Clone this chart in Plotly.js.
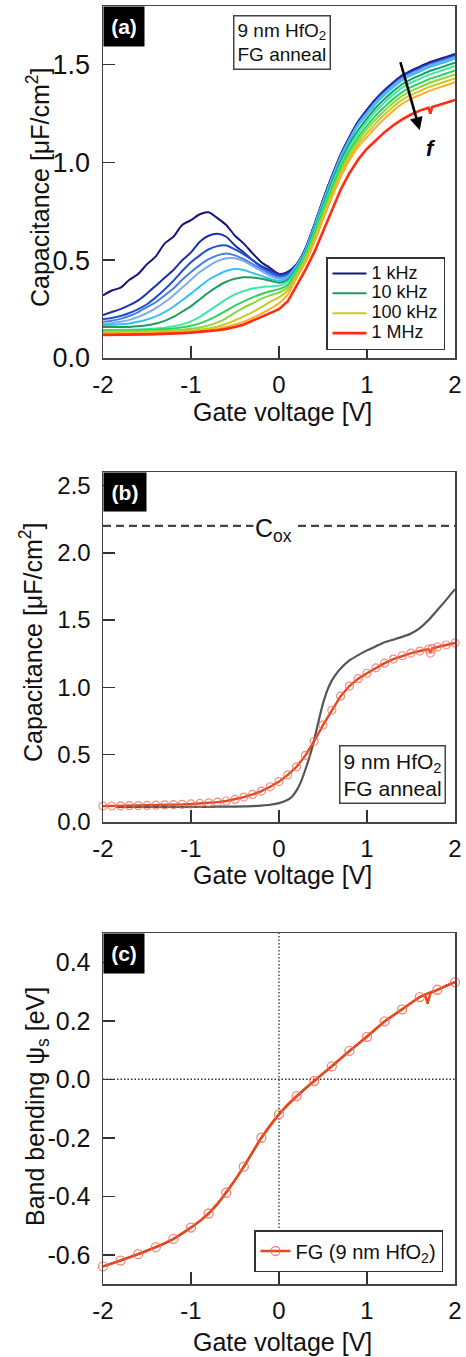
<!DOCTYPE html>
<html>
<head>
<meta charset="utf-8">
<script src="https://cdn.plot.ly/plotly-3.0.1.min.js"></script>
<style>html,body{margin:0;padding:0;background:#fff;}#chart{width:466px;height:1357px;}</style>
</head>
<body>
<div id="chart"></div>
<script>
// ---------- data ----------
// panel (a): gate voltage grid and C-V curves at several frequencies (uF/cm^2)
const va = [-2.0,-1.9,-1.8,-1.7,-1.6,-1.5,-1.4,-1.3,-1.2,-1.1,-1.0,-0.9,-0.8,-0.7,-0.6,-0.5,-0.4,-0.3,-0.2,-0.1,0.0,0.1,
            0.2,0.3,0.4,0.5,0.6,0.7,0.8,0.9,1.0,1.1,1.2,1.3,1.4,1.5,1.6,1.7,1.8,1.9,2.0];
const ca_1k   = [0.32,0.345,0.36,0.40,0.43,0.48,0.52,0.585,0.62,0.68,0.705,0.735,0.745,0.715,0.68,0.625,0.585,0.535,0.49,0.46,0.43,0.44,
                 0.48,0.56,0.68,0.81,0.93,1.04,1.13,1.21,1.27,1.325,1.37,1.41,1.445,1.47,1.49,1.51,1.525,1.54,1.555];
const ca_2k   = [0.22,0.235,0.25,0.27,0.295,0.33,0.37,0.41,0.45,0.50,0.54,0.595,0.625,0.635,0.62,0.575,0.54,0.50,0.47,0.45,0.43,0.435,
                 0.478,0.558,0.677,0.806,0.926,1.036,1.126,1.206,1.265,1.32,1.365,1.405,1.44,1.465,1.485,1.505,1.52,1.535,1.55];
const ca_3k   = [0.20,0.205,0.215,0.23,0.25,0.275,0.31,0.35,0.395,0.445,0.49,0.525,0.555,0.572,0.575,0.555,0.53,0.50,0.465,0.44,0.42,0.43,
                 0.475,0.555,0.674,0.803,0.922,1.032,1.122,1.202,1.26,1.315,1.36,1.40,1.435,1.46,1.48,1.50,1.515,1.53,1.545];
const ca_4k   = [0.185,0.19,0.20,0.215,0.235,0.26,0.285,0.32,0.355,0.40,0.44,0.475,0.505,0.525,0.535,0.525,0.505,0.48,0.455,0.43,0.41,0.42,
                 0.473,0.553,0.671,0.80,0.919,1.029,1.119,1.198,1.256,1.311,1.356,1.396,1.431,1.456,1.476,1.496,1.511,1.526,1.541];
const ca_5k   = [0.175,0.178,0.185,0.195,0.21,0.23,0.255,0.285,0.32,0.36,0.40,0.44,0.47,0.495,0.51,0.51,0.495,0.47,0.445,0.42,0.405,0.415,
                 0.471,0.551,0.669,0.797,0.916,1.026,1.115,1.195,1.252,1.307,1.352,1.392,1.427,1.452,1.472,1.492,1.507,1.522,1.537];
const ca_7k   = [0.168,0.17,0.172,0.177,0.185,0.197,0.213,0.235,0.262,0.295,0.33,0.365,0.40,0.425,0.445,0.455,0.45,0.435,0.42,0.405,0.395,0.41,
                 0.468,0.548,0.664,0.792,0.911,1.02,1.109,1.189,1.245,1.30,1.345,1.385,1.42,1.445,1.465,1.485,1.50,1.515,1.53];
const ca_10k  = [0.158,0.158,0.158,0.159,0.162,0.167,0.176,0.19,0.21,0.237,0.265,0.30,0.335,0.365,0.39,0.405,0.413,0.412,0.405,0.395,0.385,0.40,
                 0.458,0.538,0.652,0.778,0.896,1.004,1.093,1.165,1.225,1.28,1.325,1.365,1.40,1.425,1.445,1.465,1.48,1.495,1.51];
const ca_20k  = [0.143,0.143,0.144,0.145,0.146,0.148,0.151,0.155,0.162,0.172,0.187,0.21,0.24,0.27,0.30,0.325,0.342,0.355,0.362,0.366,0.37,0.39,
                 0.45,0.53,0.642,0.766,0.883,0.99,1.079,1.15,1.21,1.263,1.308,1.348,1.383,1.408,1.428,1.448,1.463,1.478,1.493];
const ca_30k  = [0.14,0.14,0.14,0.141,0.142,0.143,0.145,0.148,0.151,0.157,0.165,0.177,0.195,0.217,0.242,0.268,0.29,0.31,0.327,0.341,0.352,0.375,
                 0.438,0.518,0.627,0.75,0.865,0.972,1.06,1.13,1.188,1.24,1.285,1.325,1.36,1.385,1.405,1.425,1.44,1.455,1.47];
const ca_50k  = [0.135,0.135,0.135,0.136,0.136,0.137,0.138,0.139,0.141,0.144,0.149,0.156,0.167,0.182,0.203,0.232,0.258,0.28,0.302,0.32,0.335,0.36,
                 0.429,0.509,0.615,0.735,0.85,0.956,1.044,1.113,1.17,1.22,1.265,1.305,1.34,1.365,1.385,1.405,1.42,1.435,1.45];
const ca_100k = [0.13,0.13,0.13,0.131,0.131,0.132,0.133,0.134,0.135,0.137,0.14,0.145,0.151,0.16,0.174,0.193,0.213,0.235,0.26,0.287,0.31,0.345,
                 0.419,0.499,0.602,0.721,0.835,0.94,1.027,1.096,1.15,1.20,1.245,1.285,1.32,1.345,1.365,1.385,1.40,1.415,1.43];
const ca_300k = [0.125,0.125,0.126,0.126,0.127,0.127,0.128,0.129,0.13,0.132,0.134,0.138,0.143,0.15,0.159,0.171,0.186,0.205,0.227,0.252,0.28,0.325,
                 0.409,0.489,0.59,0.707,0.82,0.924,1.011,1.08,1.13,1.18,1.225,1.265,1.30,1.325,1.345,1.365,1.38,1.395,1.41];
const va_1M = [-2.0,-1.9,-1.8,-1.7,-1.6,-1.5,-1.4,-1.3,-1.2,-1.1,-1.0,-0.9,-0.8,-0.7,-0.6,-0.5,-0.4,-0.3,-0.2,-0.1,0.0,0.1,
               0.2,0.3,0.4,0.5,0.6,0.7,0.8,0.9,1.0,1.1,1.2,1.3,1.4,1.5,1.6,1.7,1.72,1.74,1.8,1.9,2.0];
const ca_1M   = [0.118,0.118,0.119,0.119,0.12,0.121,0.122,0.123,0.125,0.127,0.13,0.133,0.137,0.142,0.149,0.158,0.171,0.19,0.21,0.228,0.25,0.29,
                 0.37,0.45,0.54,0.65,0.76,0.86,0.945,1.015,1.07,1.115,1.155,1.19,1.22,1.245,1.265,1.28,1.25,1.283,1.29,1.305,1.32];
const freqNames = ['1 kHz','2 kHz','3 kHz','4 kHz','5 kHz','7 kHz','10 kHz','20 kHz','30 kHz','50 kHz','100 kHz','300 kHz','1 MHz'];
const freqColors = ['#15167a','#1c2fae','#2150cf','#4a7fe2','#7eaaf2','#33c2f2','#1d9c5e','#3ce8a6','#2fd35c','#8ed53a','#c9c922','#ffae22','#ff2c12'];
const freqLegend = ['1 kHz','10 kHz','100 kHz','1 MHz'];

// panel (b): measured 1 MHz curve (red, circles) and reference curve (grey)
const vb = [-2.0,-1.9,-1.8,-1.7,-1.6,-1.5,-1.4,-1.3,-1.2,-1.1,-1.0,-0.9,-0.8,-0.7,-0.6,-0.5,-0.4,-0.3,-0.2,-0.1,0.0,
            0.1,0.2,0.3,0.4,0.5,0.6,0.7,0.8,0.9,1.0,1.1,1.2,1.3,1.4,1.5,1.6,1.7,1.72,1.74,1.8,1.9,2.0];
const cb_meas = [0.118,0.119,0.12,0.121,0.122,0.123,0.125,0.127,0.129,0.131,0.134,0.138,0.142,0.148,0.156,0.168,0.185,0.205,0.23,0.262,0.30,
                 0.35,0.41,0.495,0.60,0.72,0.83,0.935,1.01,1.065,1.105,1.145,1.18,1.21,1.235,1.255,1.27,1.285,1.255,1.288,1.30,1.315,1.33];
const vb_ref = [-1.85,-1.6,-1.4,-1.2,-1.0,-0.8,-0.6,-0.4,-0.3,-0.2,-0.1,0.0,0.1,0.15,0.2,0.25,0.3,0.35,0.4,0.45,0.5,0.55,0.6,0.65,0.7,
                0.8,0.9,1.0,1.1,1.2,1.3,1.4,1.5,1.6,1.7,1.8,1.9,2.0];
const cb_ref = [0.112,0.112,0.112,0.112,0.112,0.113,0.114,0.116,0.118,0.122,0.128,0.14,0.165,0.19,0.235,0.30,0.39,0.49,0.61,0.75,0.88,0.98,1.05,1.10,1.14,
                1.20,1.24,1.275,1.305,1.335,1.355,1.375,1.40,1.44,1.50,1.575,1.65,1.73];
const COX = 2.2;

// panel (c): band bending (eV)
const vc = [-2.0,-1.9,-1.8,-1.7,-1.6,-1.5,-1.4,-1.3,-1.2,-1.1,-1.0,-0.9,-0.8,-0.7,-0.6,-0.5,-0.4,-0.3,-0.2,-0.1,0.0,
            0.1,0.2,0.3,0.4,0.5,0.6,0.7,0.8,0.9,1.0,1.1,1.2,1.3,1.4,1.5,1.6,1.66,1.69,1.72,1.8,1.9,2.0];
const psi = [-0.64,-0.63,-0.62,-0.609,-0.598,-0.586,-0.574,-0.561,-0.546,-0.528,-0.507,-0.485,-0.459,-0.427,-0.388,-0.345,-0.299,-0.247,-0.200,-0.158,-0.12,
             -0.087,-0.058,-0.031,-0.006,0.019,0.044,0.071,0.097,0.121,0.145,0.172,0.198,0.219,0.239,0.261,0.281,0.289,0.258,0.294,0.306,0.32,0.332];

// tick labels
const xTickVals = [-2,-1,0,1,2];
const xTickText = ['-2','-1','0','1','2'];
const yaTickVals = [0,0.5,1,1.5];
const yaTickText = ['0.0','0.5','1.0','1.5'];
const ybTickVals = [0,0.5,1,1.5,2,2.5];
const ybTickText = ['0.0','0.5','1.0','1.5','2.0','2.5'];
const ycTickVals = [-0.6,-0.4,-0.2,0,0.2,0.4];
const ycTickText = ['-0.6','-0.4','-0.2','0.0','0.2','0.4'];

// ---------- figure ----------
const FONT = 'Liberation Sans, Arial, Helvetica, sans-serif';
const TXT = '#111';
const REDB = '#e4481e';

const seriesA = [ca_1k,ca_2k,ca_3k,ca_4k,ca_5k,ca_7k,ca_10k,ca_20k,ca_30k,ca_50k,ca_100k,ca_300k,ca_1M];
const traces = [];
seriesA.forEach((ys, i) => {
  const nm = freqNames[i];
  const inLeg = freqLegend.includes(nm);
  const last = (i === seriesA.length-1);
  traces.push({
    type:'scatter', mode:'lines', x: (last ? va_1M : va), y: ys,
    xaxis:'x', yaxis:'y', name: '<span style="font-size:18px">' + nm + '</span>',
    showlegend: inLeg, legend:'legend',
    line:{color: freqColors[i], width: (last ? 2.6 : 2.0), shape: (last ? 'linear' : 'spline'), smoothing:0.7},
    cliponaxis: true, hoverinfo:'skip'
  });
});

// panel (b)
traces.push({type:'scatter', mode:'lines', x: vb_ref, y: cb_ref, xaxis:'x2', yaxis:'y2',
  showlegend:false, line:{color:'#555555', width:2.2, shape:'spline', smoothing:0.6}, hoverinfo:'skip'});
traces.push({type:'scatter', mode:'lines+markers', x: vb, y: cb_meas, xaxis:'x2', yaxis:'y2',
  showlegend:false, cliponaxis:false,
  line:{color: REDB, width:2.4},
  marker:{symbol:'circle-open', size:8, color:'rgba(238,105,85,0.75)', line:{width:1.2}}, hoverinfo:'skip'});

// panel (c)
const vcMark = [], psiMark = [];
vc.forEach((v, i) => { if (Math.abs(v*5 - Math.round(v*5)) < 1e-6) { vcMark.push(v); psiMark.push(psi[i]); } });
traces.push({type:'scatter', mode:'lines', x: vc, y: psi, xaxis:'x3', yaxis:'y3',
  showlegend:false, cliponaxis:false, line:{color: REDB, width:2.4}, hoverinfo:'skip'});
traces.push({type:'scatter', mode:'lines+markers', x: vcMark, y: psiMark, xaxis:'x3', yaxis:'y3',
  name:'FG (9 nm HfO<sub>2</sub>)', legend:'legend2', showlegend:true, cliponaxis:false,
  line:{color: REDB, width:2.4, shape:'spline', smoothing:0.6},
  marker:{symbol:'circle-open', size:9, color:'rgba(238,105,85,0.8)', line:{width:1.3}}, hoverinfo:'skip'});

function xax(anchor){
  return {domain:[103/466, 455/466], anchor: anchor, range:[-2,2], autorange:false,
    showline:true, mirror:true, linecolor:'#444', linewidth:1.5,
    ticks:'inside', ticklen:12, tickwidth:1.5, tickcolor:'#333',
    tickvals:xTickVals, ticktext:xTickText, tickfont:{family:FONT, size:24, color:TXT},
    ticklabelstandoff:5, showgrid:false, zeroline:false, automargin:false, fixedrange:true};
}
function yax(anchor, dom, rng, tv, tt, fs){
  return {domain:dom, anchor: anchor, range:rng, autorange:false,
    showline:true, mirror:true, linecolor:'#444', linewidth:1.5,
    ticks:'inside', ticklen:12, tickwidth:1.5, tickcolor:'#333',
    tickvals:tv, ticktext:tt, tickfont:{family:FONT, size:fs, color:TXT},
    ticklabelstandoff:6, showgrid:false, zeroline:false, automargin:false, fixedrange:true};
}
const H = 1357;
const py = p => 1 - p / H;

const annotations = [];
function boxLabel(txt, xr, yr, w, h){
  annotations.push({xref: xr + ' domain', yref: yr + ' domain', x:0, y:1, xanchor:'left', yanchor:'top',
    text:'<b>' + txt + '</b>', showarrow:false, bgcolor:'#000', width:w, height:h, borderpad:0,
    font:{family:FONT, size:21, color:'#fff'}, align:'center', valign:'middle'});
}
boxLabel('(a)', 'x', 'y', 40, 39);
boxLabel('(b)', 'x2', 'y2', 42, 38);
boxLabel('(c)', 'x3', 'y3', 40, 39);

// axis titles
const ytitle = (txt, xpx, ypx) => annotations.push({xref:'paper', yref:'paper', x:xpx/466, y:py(ypx), xanchor:'center', yanchor:'middle',
  text:txt, textangle:-90, showarrow:false, font:{family:FONT, size:25, color:TXT}});
const xtitle = (ypx) => annotations.push({xref:'paper', yref:'paper', x:282/466, y:py(ypx), xanchor:'center', yanchor:'middle',
  text:'Gate voltage [V]', showarrow:false, font:{family:FONT, size:25, color:TXT}});
ytitle('Capacitance [μF/cm<sup>2</sup>]', 37.5, 187.5);
ytitle('Capacitance [μF/cm<sup>2</sup>]', 31, 642);
ytitle('Band bending ψ<sub>s</sub> [eV]', 37, 1107);
xtitle(412); xtitle(875); xtitle(1342);

// sample boxes
annotations.push({xref:'x domain', yref:'y domain', x:(282-103)/352, y:1-(42-6)/352, xanchor:'center', yanchor:'middle',
  text:'9 nm HfO<sub>2</sub><br>FG anneal', showarrow:false, bgcolor:'#fff', bordercolor:'#444', borderwidth:1.5, borderpad:3,
  align:'left', font:{family:FONT, size:19, color:TXT}});
annotations.push({xref:'x2 domain', yref:'y2 domain', x:(392-103)/352, y:1-(774.5-472)/350, xanchor:'center', yanchor:'middle',
  text:'9 nm HfO<sub>2</sub><br>FG anneal', showarrow:false, bgcolor:'#fff', bordercolor:'#444', borderwidth:1.5, borderpad:3,
  align:'left', font:{family:FONT, size:21, color:TXT}});
// frequency arrow
annotations.push({xref:'x', yref:'y', axref:'x', ayref:'y', x:1.60, y:1.165, ax:1.375, ay:1.52, text:'',
  showarrow:true, arrowhead:2, arrowsize:1, arrowwidth:2.6, arrowcolor:'#000'});
annotations.push({xref:'x', yref:'y', x:1.727, y:1.071, text:'<b><i>f</i></b>', showarrow:false,
  font:{family:FONT, size:22, color:'#000'}});
// Cox label
annotations.push({xref:'x2', yref:'y2', x:-0.06, y:COX, xanchor:'center', yanchor:'middle', yshift:-4,
  text:'C<sub>ox</sub>', showarrow:false, bgcolor:'#fff', borderpad:1, font:{family:FONT, size:25, color:TXT}});

const shapes = [
  {type:'line', xref:'x2 domain', yref:'y2', x0:0, x1:1, y0:COX, y1:COX, layer:'below',
   line:{color:'#444', width:2.2, dash:'8px,5px'}},
  {type:'line', xref:'x3', yref:'y3 domain', x0:0, x1:0, y0:0, y1:1, layer:'below',
   line:{color:'#333', width:1.3, dash:'1.5px,2px'}},
  {type:'line', xref:'x3 domain', yref:'y3', x0:0, x1:1, y0:0, y1:0, layer:'below',
   line:{color:'#333', width:1.3, dash:'1.5px,2px'}}
];

const layout = {
  width:466, height:1357, autosize:false,
  margin:{l:0, r:0, t:0, b:0, pad:0},
  paper_bgcolor:'#fff', plot_bgcolor:'#fff',
  font:{family:FONT, color:TXT},
  xaxis: xax('y'),
  yaxis: yax('x', [py(358), py(6)], [0,1.8], yaTickVals, yaTickText, 27),
  xaxis2: xax('y2'),
  yaxis2: yax('x2', [py(822), py(472)], [0,2.6], ybTickVals, ybTickText, 24),
  xaxis3: xax('y3'),
  yaxis3: yax('x3', [py(1284), py(933)], [-0.7,0.5], ycTickVals, ycTickText, 25),
  legend:{x:326/466, y:py(257), xanchor:'left', yanchor:'top', bgcolor:'#fff', bordercolor:'#333', borderwidth:1.5,
    font:{family:FONT, size:13, color:TXT}, tracegroupgap:0, itemwidth:34, itemclick:false, itemdoubleclick:false},
  legend2:{x:254/466, y:py(1230), xanchor:'left', yanchor:'top', bgcolor:'#fff', bordercolor:'#333', borderwidth:1.5,
    font:{family:FONT, size:20, color:TXT}, itemwidth:30, itemclick:false, itemdoubleclick:false},
  annotations: annotations,
  shapes: shapes,
  showlegend:true
};

Plotly.newPlot('chart', traces, layout, {displayModeBar:false, staticPlot:true, responsive:false});
</script>
</body>
</html>
